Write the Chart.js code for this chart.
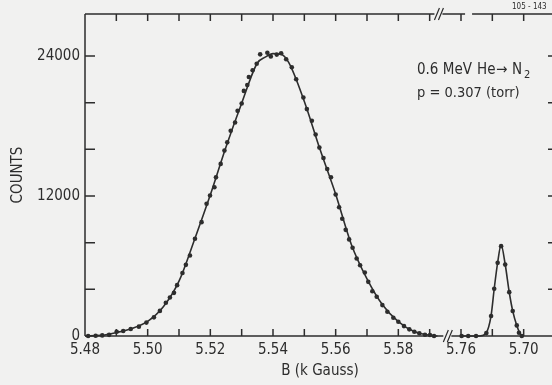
<!DOCTYPE html>
<html>
<head>
<meta charset="utf-8">
<script src="https://cdn.jsdelivr.net/npm/chart.js@4.4.1/dist/chart.umd.min.js"></script>
<style>
  html, body { margin: 0; padding: 0; background: #f1f1f0; overflow: hidden; }
  canvas { display: block; }
</style>
</head>
<body>
<canvas id="spectrum" width="560" height="385"></canvas>
<script>
// main peak: measured counts against field (kGauss)
var peakB = [5.4810, 5.4834, 5.4855, 5.4877, 5.4901, 5.4922, 5.4946, 5.4972, 5.4996, 5.5020,
  5.5039, 5.5058, 5.5071, 5.5084, 5.5094, 5.5111, 5.5122, 5.5135, 5.5151, 5.5172,
  5.5188, 5.5199, 5.5213, 5.5218, 5.5233, 5.5245, 5.5254, 5.5265, 5.5279, 5.5287,
  5.5300, 5.5307, 5.5318, 5.5323, 5.5335, 5.5348, 5.5359, 5.5382, 5.5393, 5.5412,
  5.5426, 5.5442, 5.5460, 5.5474, 5.5497, 5.5508, 5.5524, 5.5536, 5.5548, 5.5561,
  5.5573, 5.5585, 5.5600, 5.5611, 5.5621, 5.5632, 5.5643, 5.5654, 5.5667, 5.5678,
  5.5693, 5.5704, 5.5717, 5.5731, 5.5749, 5.5765, 5.5784, 5.5800, 5.5818, 5.5835,
  5.5851, 5.5867, 5.5885, 5.5901, 5.5914];
var peakCounts = [0, 20, 50, 100, 370, 430, 600, 800, 1150, 1600,
  2150, 2850, 3300, 3700, 4360, 5400, 6100, 6900, 8340, 9760,
  11330, 12040, 12750, 13600, 14750, 15890, 16600, 17590, 18300, 19300,
  19930, 21010, 21520, 22200, 22780, 23340, 24140, 24280, 23960, 24120,
  24230, 23720, 23030, 22010, 20440, 19450, 18450, 17270, 16150, 15260,
  14320, 13610, 12130, 11040, 10050, 9100, 8280, 7570, 6640, 6060,
  5440, 4640, 3840, 3360, 2650, 2080, 1560, 1220, 850, 570,
  370, 230, 110, 80, 0];

// smooth curve through the main peak
var fitB = [5.4800, 5.4850, 5.4900, 5.4950, 5.5000, 5.5050, 5.5100, 5.5150, 5.5200, 5.5250,
  5.5300, 5.5350, 5.5375, 5.5400, 5.5425, 5.5450, 5.5500, 5.5550, 5.5600, 5.5650,
  5.5700, 5.5750, 5.5800, 5.5850, 5.5900, 5.5925];
var fitCounts = [0, 50, 300, 650, 1250, 2500, 4700, 8300, 12100, 16200,
  19950, 23400, 23900, 24200, 24150, 23450, 20100, 16000, 12150, 7850,
  4900, 2650, 1230, 380, 70, 0];

// small peak beyond the axis break
var peak2B = [5.7602, 5.7623, 5.7648, 5.7681, 5.7696, 5.7706, 5.7717, 5.7728, 5.7741, 5.7754,
  5.7765, 5.7778, 5.7785, 5.7794];
var peak2Counts = [0, 0, 0, 250, 1710, 4050, 6270, 7700, 6120, 3760,
  2140, 910, 280, 0];
var fit2B = [5.7600, 5.7660, 5.7680, 5.7696, 5.7706, 5.7717, 5.7728, 5.7741, 5.7754, 5.7765,
  5.7778, 5.7790, 5.7800];
var fit2Counts = [0, 0, 250, 1750, 4050, 6300, 7800, 6150, 3750, 2150,
  900, 150, 0];

// axis positions are in steps of 0.01 kGauss, broken after 5.59
var xTickPos = [0, 2, 4, 6, 8, 10, 12, 14];
var xTickText = ['5.48', '5.50', '5.52', '5.54', '5.56', '5.58', '5.76', '5.70'];
var xBottomMarks = [1, 2, 3, 4, 5, 6, 7, 8, 9, 10, 11, 12, 13, 14];
var xTopMarks = [1, 2, 3, 4, 5, 6, 7, 8, 9, 10, 11, 12, 13, 14];
var yTickVals = [0, 12000, 24000];
var yMarks = [4000, 8000, 12000, 16000, 20000, 24000];

var ink = '#2d2d2d';
var face = '"Liberation Sans Narrow", "DejaVu Sans Condensed", "Liberation Sans", sans-serif';

function axisX(b) {
  return b < 5.7 ? (b - 5.48) * 100 : 12 + (b - 5.76) * 100;
}

function toPoints(bs, cs) {
  return bs.map(function(b, i) { return { x: axisX(b), y: cs[i] }; });
}

function slash(ctx, x, y) {
  ctx.moveTo(x - 3, y + 6);
  ctx.lineTo(x + 2, y - 6);
  ctx.moveTo(x + 1, y + 6);
  ctx.lineTo(x + 6, y - 6);
}

// frame with inward ticks and the axis breaks
var frame = {
  id: 'frame',
  afterDraw: function(chart) {
    var ctx = chart.ctx, a = chart.chartArea;
    var xs = chart.scales.x, ys = chart.scales.y;
    ctx.save();
    ctx.strokeStyle = ink;
    ctx.lineWidth = 1.5;
    ctx.beginPath();
    ctx.moveTo(a.left, a.top);
    ctx.lineTo(a.left, a.bottom);

    var bb = xs.getPixelForValue(11.5);
    ctx.moveTo(a.left, a.bottom);
    ctx.lineTo(bb - 2, a.bottom);
    ctx.moveTo(bb + 6, a.bottom);
    ctx.lineTo(a.right, a.bottom);

    var tb = xs.getPixelForValue(11.28);
    var tg = xs.getPixelForValue(12.13);
    ctx.moveTo(a.left, a.top);
    ctx.lineTo(tb - 4, a.top);
    ctx.moveTo(tb + 4, a.top);
    ctx.lineTo(tg, a.top);
    ctx.moveTo(tg + 7, a.top);
    ctx.lineTo(a.right, a.top);
    ctx.moveTo(a.right, a.top);
    ctx.lineTo(a.right, a.bottom);

    xBottomMarks.forEach(function(u) {
      var x = xs.getPixelForValue(u);
      ctx.moveTo(x, a.bottom);
      ctx.lineTo(x, a.bottom - 7);
    });
    xTopMarks.forEach(function(u) {
      var x = xs.getPixelForValue(u);
      ctx.moveTo(x, a.top);
      ctx.lineTo(x, a.top + 7);
    });
    yMarks.forEach(function(v) {
      var y = ys.getPixelForValue(v);
      ctx.moveTo(a.left, y);
      ctx.lineTo(a.left + 10, y);
      ctx.moveTo(a.right, y);
      ctx.lineTo(a.right - 7, y);
    });
    ctx.stroke();

    ctx.lineWidth = 1.2;
    ctx.beginPath();
    slash(ctx, bb + 1, a.bottom);
    slash(ctx, tb - 1, a.top);
    ctx.stroke();

    // run conditions
    ctx.fillStyle = ink;
    ctx.textBaseline = 'alphabetic';
    ctx.font = '15px ' + face;
    ctx.fillText('0.6 MeV', 417, 74);
    ctx.fillText('He', 477, 74);
    ctx.fillText('\u2192', 496, 74);
    ctx.fillText('N', 512, 74);
    ctx.font = '11px ' + face;
    ctx.fillText('2', 524, 78);
    ctx.font = '14.5px ' + face;
    ctx.fillText('p = 0.307 (torr)', 417, 97);

    ctx.font = '8px ' + face;
    ctx.fillText('105 - 143', 512, 9);
    ctx.restore();
  }
};

new Chart(document.getElementById('spectrum'), {
  type: 'scatter',
  data: {
    datasets: [
      { data: toPoints(fitB, fitCounts), showLine: true, borderColor: ink, borderWidth: 1.6,
        pointRadius: 0, cubicInterpolationMode: 'monotone', clip: false },
      { data: toPoints(fit2B, fit2Counts), showLine: true, borderColor: ink, borderWidth: 1.6,
        pointRadius: 0, cubicInterpolationMode: 'monotone', clip: false },
      { data: toPoints(peakB, peakCounts), pointRadius: 2.3, backgroundColor: ink,
        borderWidth: 0, clip: false },
      { data: toPoints(peak2B, peak2Counts), pointRadius: 2.3, backgroundColor: ink,
        borderWidth: 0, clip: false }
    ]
  },
  options: {
    responsive: false,
    animation: false,
    devicePixelRatio: 1,
    layout: { padding: { top: 13, right: 5, left: 0, bottom: 0 } },
    plugins: { legend: { display: false }, tooltip: { enabled: false } },
    scales: {
      x: {
        type: 'linear', min: 0, max: 15,
        grid: { display: false, drawTicks: false },
        border: { display: false },
        afterBuildTicks: function(s) {
          s.ticks = xTickPos.map(function(v) { return { value: v }; });
        },
        afterFit: function(s) { s.height = 49; },
        ticks: {
          autoSkip: false, maxRotation: 0, padding: 5, color: ink,
          font: { family: face, size: 15 },
          callback: function(v) {
            var i = xTickPos.indexOf(v);
            return i < 0 ? '' : xTickText[i];
          }
        },
        title: {
          display: true, text: 'B (k Gauss)', color: ink,
          font: { family: face, size: 15 }, padding: { bottom: 5, top: 0 }
        }
      },
      y: {
        min: 0, max: 27600,
        grid: { display: false, drawTicks: false },
        border: { display: false },
        afterBuildTicks: function(s) {
          s.ticks = yTickVals.map(function(v) { return { value: v }; });
        },
        afterFit: function(s) { s.width = 85; },
        ticks: {
          padding: 5, color: ink,
          font: { family: face, size: 15 },
          callback: function(v) { return String(v); }
        },
        title: {
          display: true, text: 'COUNTS', color: ink,
          font: { family: face, size: 15 }, padding: { top: 9, bottom: 0 }
        }
      }
    }
  },
  plugins: [frame]
});
</script>
</body>
</html>
